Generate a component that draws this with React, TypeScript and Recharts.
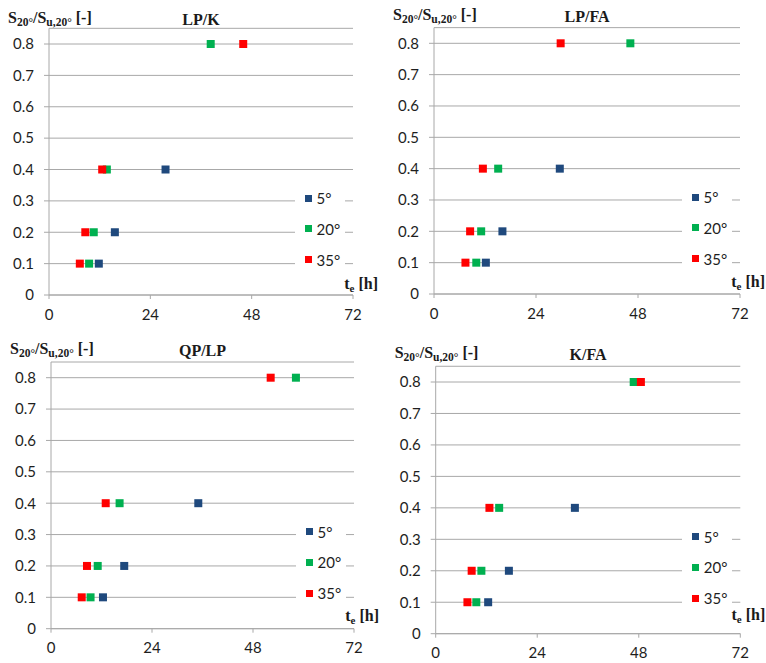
import React from 'react';
import { ScatterChart, Scatter, XAxis, YAxis, CartesianGrid } from 'recharts';

const levels = [0.1, 0.2, 0.4, 0.8];
const xTicks = [0, 24, 48, 72];
const yTicks = [0, 0.1, 0.2, 0.3, 0.4, 0.5, 0.6, 0.7, 0.8];
const seriesNames = ['5°', '20°', '35°'];
const seriesColors = ['#1F497D', '#00B050', '#FF0000'];

const lpK5 = [11.8, 15.6, 27.6];
const lpK20 = [9.5, 10.6, 13.7, 38.3];
const lpK35 = [7.3, 8.6, 12.6, 46.0];

const lpFa5 = [12.2, 16.1, 29.6];
const lpFa20 = [9.95, 11.1, 15.1, 46.2];
const lpFa35 = [7.4, 8.5, 11.5, 29.8];

const qpLp5 = [12.35, 17.4, 35.0];
const qpLp20 = [9.4, 11.1, 16.3, 58.2];
const qpLp35 = [7.3, 8.55, 13.0, 52.2];

const kFa5 = [12.4, 17.3, 32.9];
const kFa20 = [9.6, 10.8, 15.0, 46.8];
const kFa35 = [7.5, 8.5, 12.7, 48.5];

const toPoints = (xs: number[]) => xs.map((x, i) => ({ x, y: levels[i] }));

type PanelDef = {
  title: string;
  series: number[][];
  left: number;
  top: number;
  plotLeft: number;
  plotRight: number;
  y0: number;
  y08: number;
  labelY: number;
  teY: number;
};

const panels: PanelDef[] = [
  { title: 'LP/K', series: [lpK5, lpK20, lpK35], left: 0, top: 0, plotLeft: 49, plotRight: 353, y0: 295, y08: 44, labelY: 20, teY: 286 },
  { title: 'LP/FA', series: [lpFa5, lpFa20, lpFa35], left: 383, top: 0, plotLeft: 51, plotRight: 357, y0: 294, y08: 43.3, labelY: 17, teY: 284 },
  { title: 'QP/LP', series: [qpLp5, qpLp20, qpLp35], left: 0, top: 331, plotLeft: 51, plotRight: 354, y0: 297.7, y08: 46.7, labelY: 20, teY: 286.5 },
  { title: 'K/FA', series: [kFa5, kFa20, kFa35], left: 383, top: 331, plotLeft: 52.7, plotRight: 357.3, y0: 302.7, y08: 51, labelY: 24, teY: 285.5 },
];

const W = 383;
const H = 332;
const X_AXIS_H = 30;
const sans = 'Lato, "Open Sans", sans-serif';
const tickFont = { fontFamily: sans, fontSize: 15, fill: '#1e1e1e' };
const serif = '"Liberation Serif", "Times New Roman", serif';
const gridColor = '#A8A8A8';

const squareShape = (color: string) => (props: any) => {
  const { cx, cy } = props;
  if (cx == null || cy == null) return <g />;
  return <rect x={cx - 4} y={cy - 4} width={8} height={8} fill={color} />;
};

function Panel({ p }: { p: PanelDef }) {
  const plotTop = p.y0 - ((p.y0 - p.y08) * 0.85) / 0.8;
  const margin = {
    top: plotTop,
    right: W - p.plotRight,
    bottom: H - p.y0 - X_AXIS_H,
    left: 0,
  };
  return (
    <div style={{ position: 'absolute', left: p.left, top: p.top, width: W, height: H }}>
      <ScatterChart width={W} height={H} margin={margin}>
        <CartesianGrid horizontal={true} vertical={false} stroke={gridColor} strokeDasharray="" />
        <XAxis
          type="number"
          dataKey="x"
          domain={[0, 72]}
          ticks={xTicks}
          height={X_AXIS_H}
          axisLine={{ stroke: gridColor }}
          tickLine={{ stroke: gridColor }}
          tickSize={4}
          tickMargin={10}
          tick={tickFont}
          interval={0}
        />
        <YAxis
          type="number"
          dataKey="y"
          domain={[0, 0.85]}
          ticks={yTicks}
          width={p.plotLeft}
          axisLine={{ stroke: gridColor }}
          tickLine={{ stroke: gridColor }}
          tickSize={5}
          tickMargin={10}
          tick={tickFont}
          interval={0}
          tickFormatter={(v: number) => (v === 0 ? '0' : v.toFixed(1))}
          allowDataOverflow
        />
        {p.series.map((s, i) => (
          <Scatter
            key={seriesNames[i]}
            name={seriesNames[i]}
            data={toPoints(s)}
            fill={seriesColors[i]}
            shape={squareShape(seriesColors[i])}
            isAnimationActive={false}
          />
        ))}
      </ScatterChart>

      {/* y axis label */}
      <div
        style={{
          position: 'absolute',
          left: p.plotLeft - 41,
          top: p.labelY,
          transform: 'translateY(-50%)',
          fontFamily: serif,
          fontWeight: 'bold',
          fontSize: 16,
          color: '#1a1a1a',
          whiteSpace: 'nowrap',
          lineHeight: '18px',
        }}
      >
        S<sub style={{ fontSize: 11.5, verticalAlign: '-3px' }}>20°</sub>/S
        <sub style={{ fontSize: 11.5, verticalAlign: '-3px' }}>u,20°</sub> [-]
      </div>

      {/* title */}
      <div
        style={{
          position: 'absolute',
          left: (p.plotLeft + p.plotRight) / 2,
          top: p.labelY,
          transform: 'translate(-50%, -50%)',
          fontFamily: serif,
          fontWeight: 'bold',
          fontSize: 16,
          color: '#1a1a1a',
          whiteSpace: 'nowrap',
          lineHeight: '18px',
        }}
      >
        {p.title}
      </div>

      {/* x axis label */}
      <div
        style={{
          position: 'absolute',
          right: W - (p.plotRight + 25),
          top: p.teY,
          transform: 'translateY(-50%)',
          fontFamily: serif,
          fontWeight: 'bold',
          fontSize: 16,
          color: '#1a1a1a',
          whiteSpace: 'nowrap',
          lineHeight: '18px',
        }}
      >
        t<sub style={{ fontSize: 11, verticalAlign: '-3px' }}>e</sub> [h]
      </div>

      {/* legend */}
      <div
        style={{
          position: 'absolute',
          left: p.plotRight - 58,
          top: p.y0 - 113,
          width: 50,
          height: 91,
          background: '#fff',
        }}
      >
        {seriesNames.map((n, i) => {
          const rowY = [16, 46.5, 77.5][i];
          return (
            <div key={n} style={{ position: 'absolute', left: 9.5, top: rowY, transform: 'translateY(-50%)', display: 'flex', alignItems: 'center', whiteSpace: 'nowrap' }}>
              <div style={{ width: 7, height: 7, background: seriesColors[i] }} />
              <span style={{ marginLeft: 5, fontFamily: sans, fontSize: 15, color: '#1e1e1e', lineHeight: '16px' }}>{n}</span>
            </div>
          );
        })}
      </div>
    </div>
  );
}

export default function App() {
  return (
    <div style={{ position: 'absolute', left: 0, top: 0, width: 766, height: 663, background: '#fff', overflow: 'hidden' }}>
      {panels.map((p) => (
        <Panel key={p.title} p={p} />
      ))}
    </div>
  );
}
